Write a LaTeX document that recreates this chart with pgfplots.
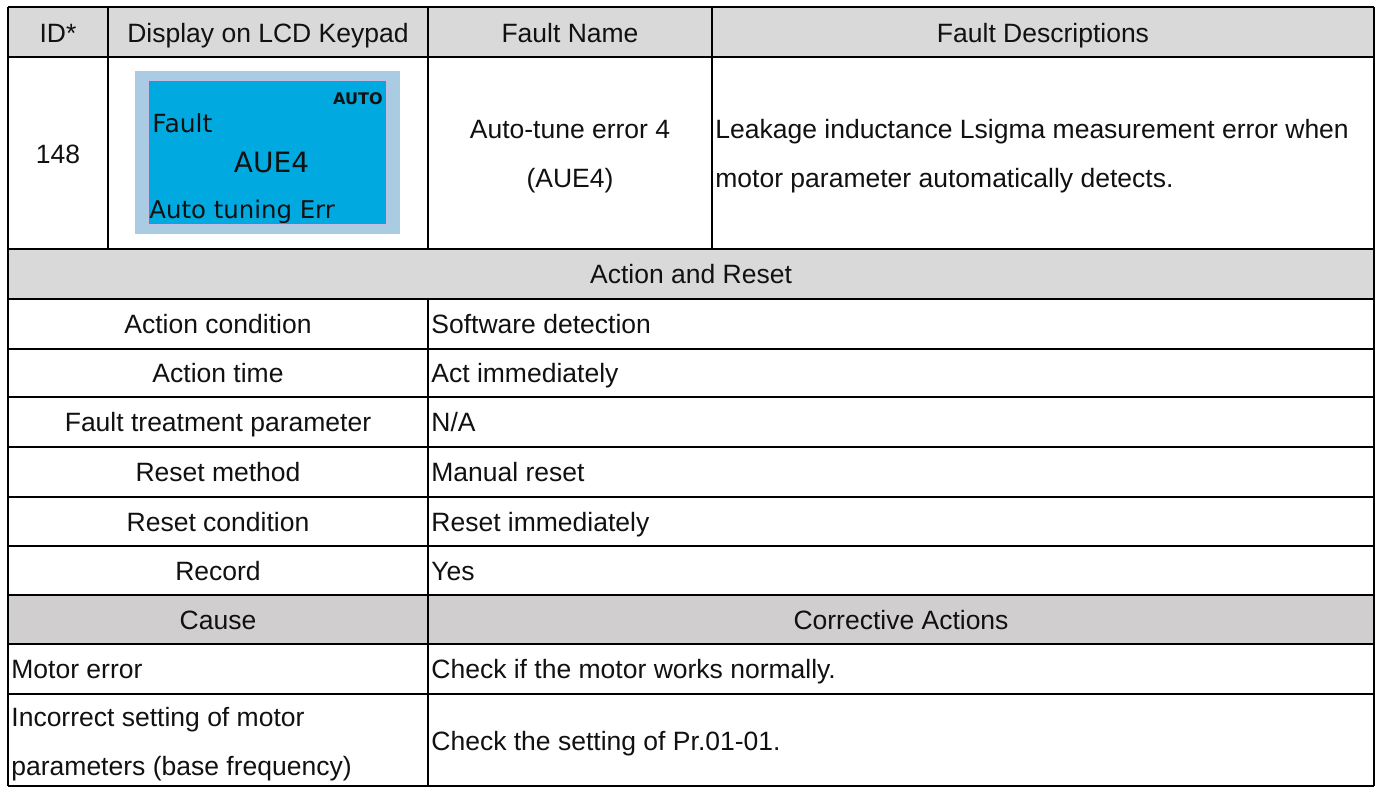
\documentclass[border=0pt]{standalone}
\usepackage{pgfplots}
\pgfplotsset{compat=1.18}
\usepackage{fontspec}
\setmainfont{Liberation Sans}
\newfontfamily\lcdfont{DejaVu Sans}
\definecolor{hdr}{HTML}{D9D9D9}
\definecolor{causegray}{HTML}{D0CECE}
\definecolor{lcdout}{HTML}{A9CCE3}
\definecolor{lcdin}{HTML}{00AAE0}
\definecolor{lcdedge}{HTML}{C4BEE2}
\definecolor{txt}{HTML}{111111}
\newcommand\tfont{\fontsize{13.25pt}{16pt}\selectfont}
\begin{document}
\begin{tikzpicture}
\begin{axis}[scale only axis, width=690.5pt, height=394.5pt,
  xmin=0, xmax=1381, ymin=0, ymax=789, y dir=reverse,
  hide axis, clip=false,
  tl/.style={black, line width=1pt, forget plot}]
% background and shaded rows
\addplot[fill=white, draw=none] coordinates {(0,0) (1381,0) (1381,789) (0,789)} -- cycle;
\addplot[fill=hdr, draw=none] coordinates {(8,7) (1374,7) (1374,57) (8,57)} -- cycle;
\addplot[fill=hdr, draw=none] coordinates {(8,249) (1374,249) (1374,299) (8,299)} -- cycle;
\addplot[fill=causegray, draw=none] coordinates {(8,595) (1374,595) (1374,644) (8,644)} -- cycle;
% LCD picture
\addplot[fill=lcdout, draw=lcdedge, line width=0.5pt] coordinates {(135,71) (399,71) (399,233) (135,233)} -- cycle;
\addplot[fill=lcdin, draw=lcdedge, line width=0.5pt] coordinates {(148,80) (386,80) (386,224) (148,224)} -- cycle;
% horizontal rules
\addplot[tl] coordinates {(8,7) (1374,7)};
\addplot[tl] coordinates {(8,57) (1374,57)};
\addplot[tl] coordinates {(8,249) (1374,249)};
\addplot[tl] coordinates {(8,299) (1374,299)};
\addplot[tl] coordinates {(8,349) (1374,349)};
\addplot[tl] coordinates {(8,397) (1374,397)};
\addplot[tl] coordinates {(8,447) (1374,447)};
\addplot[tl] coordinates {(8,497) (1374,497)};
\addplot[tl] coordinates {(8,546) (1374,546)};
\addplot[tl] coordinates {(8,595) (1374,595)};
\addplot[tl] coordinates {(8,644) (1374,644)};
\addplot[tl] coordinates {(8,694) (1374,694)};
\addplot[tl] coordinates {(8,786) (1374,786)};
% vertical rules
\addplot[tl] coordinates {(8,7) (8,786)};
\addplot[tl] coordinates {(1374,7) (1374,786)};
\addplot[tl] coordinates {(108,7) (108,249)};
\addplot[tl] coordinates {(428,7) (428,249)};
\addplot[tl] coordinates {(712,7) (712,249)};
\addplot[tl] coordinates {(428,299) (428,786)};
% header texts
\node[anchor=base, font=\tfont, text=txt, inner sep=0pt] at (58,42) {ID*};
\node[anchor=base, font=\tfont, text=txt, inner sep=0pt] at (268,42) {Display on LCD Keypad};
\node[anchor=base, font=\tfont, text=txt, inner sep=0pt] at (570,42) {Fault Name};
\node[anchor=base, font=\tfont, text=txt, inner sep=0pt] at (1043,42) {Fault Descriptions};
% row 148
\node[anchor=base, font=\tfont, text=txt, inner sep=0pt] at (58,163) {148};
\node[anchor=base, font=\tfont, text=txt, inner sep=0pt] at (570,138) {Auto-tune error 4};
\node[anchor=base, font=\tfont, text=txt, inner sep=0pt] at (570,187) {(AUE4)};
\node[anchor=base west, font=\tfont, text=txt, inner sep=0pt] at (715,138) {Leakage inductance Lsigma measurement error when};
\node[anchor=base west, font=\tfont, text=txt, inner sep=0pt] at (715,187) {motor parameter automatically detects.};
% LCD texts
\node[anchor=base east, font=\lcdfont\bfseries\fontsize{8pt}{9pt}\selectfont, text=txt, inner sep=0pt] at (383,104) {AUTO};
\node[anchor=base west, font=\lcdfont\fontsize{12.5pt}{14pt}\selectfont, text=txt, inner sep=0pt] at (152,132) {Fault};
\node[anchor=base, font=\lcdfont\fontsize{14pt}{16pt}\selectfont, text=txt, inner sep=0pt] at (271.5,172) {AUE4};
\node[anchor=base west, font=\lcdfont\fontsize{12.2pt}{14pt}\selectfont, text=txt, inner sep=0pt] at (149,218) {Auto tuning Err};
% Action and Reset
\node[anchor=base, font=\tfont, text=txt, inner sep=0pt] at (691,283.5) {Action and Reset};
\node[anchor=base, font=\tfont, text=txt, inner sep=0pt] at (218,333.5) {Action condition};
\node[anchor=base west, font=\tfont, text=txt, inner sep=0pt] at (431,333.5) {Software detection};
\node[anchor=base, font=\tfont, text=txt, inner sep=0pt] at (218,382.5) {Action time};
\node[anchor=base west, font=\tfont, text=txt, inner sep=0pt] at (431,382.5) {Act immediately};
\node[anchor=base, font=\tfont, text=txt, inner sep=0pt] at (218,431.5) {Fault treatment parameter};
\node[anchor=base west, font=\tfont, text=txt, inner sep=0pt] at (431,431.5) {N/A};
\node[anchor=base, font=\tfont, text=txt, inner sep=0pt] at (218,481.5) {Reset method};
\node[anchor=base west, font=\tfont, text=txt, inner sep=0pt] at (431,481.5) {Manual reset};
\node[anchor=base, font=\tfont, text=txt, inner sep=0pt] at (218,531) {Reset condition};
\node[anchor=base west, font=\tfont, text=txt, inner sep=0pt] at (431,531) {Reset immediately};
\node[anchor=base, font=\tfont, text=txt, inner sep=0pt] at (218,580) {Record};
\node[anchor=base west, font=\tfont, text=txt, inner sep=0pt] at (431,580) {Yes};
% Cause section
\node[anchor=base, font=\tfont, text=txt, inner sep=0pt] at (218,629) {Cause};
\node[anchor=base, font=\tfont, text=txt, inner sep=0pt] at (901,629) {Corrective Actions};
\node[anchor=base west, font=\tfont, text=txt, inner sep=0pt] at (11,678.5) {Motor error};
\node[anchor=base west, font=\tfont, text=txt, inner sep=0pt] at (431,678.5) {Check if the motor works normally.};
\node[anchor=base west, font=\tfont, text=txt, inner sep=0pt] at (11,726) {Incorrect setting of motor};
\node[anchor=base west, font=\tfont, text=txt, inner sep=0pt] at (11,775) {parameters (base frequency)};
\node[anchor=base west, font=\tfont, text=txt, inner sep=0pt] at (431,750) {Check the setting of Pr.01-01.};
\end{axis}
\end{tikzpicture}
\end{document}
